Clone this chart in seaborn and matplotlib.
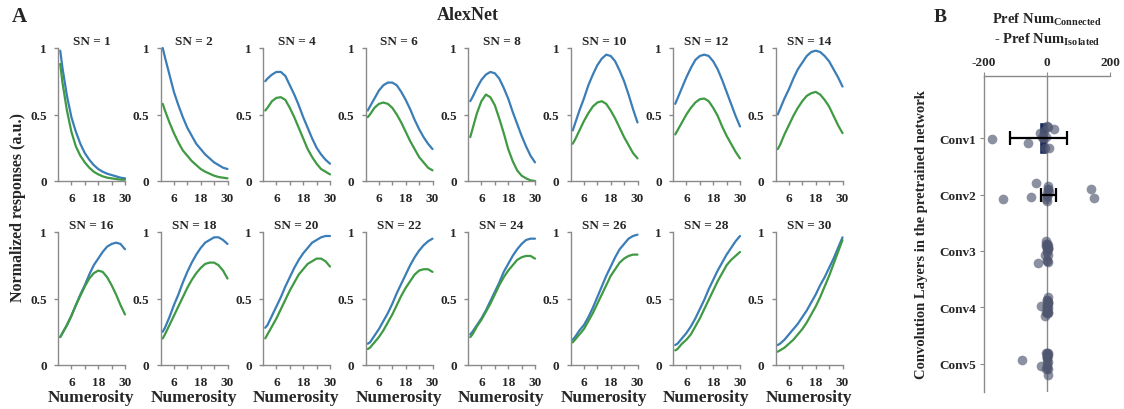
import numpy as np
import pandas as pd
import matplotlib
matplotlib.use("Agg")
import matplotlib.pyplot as plt
import seaborn as sns
from matplotlib.ticker import FixedLocator

sns.set_style("ticks")
plt.rcParams['font.family'] = ['Liberation Serif', 'DejaVu Serif']
plt.rcParams['font.weight'] = 'bold'
plt.rcParams['mathtext.default'] = 'regular'

# ---------------- data ----------------
numerosity = [1, 2, 4, 6, 8, 10, 12, 14, 16, 18, 20, 22, 24, 26, 28, 30]
sn_values = [1, 2, 4, 6, 8, 10, 12, 14, 16, 18, 20, 22, 24, 26, 28, 30]

# blue curves (one row per SN)
resp_blue = [
    [0.98, 0.85, 0.64, 0.48, 0.37, 0.28, 0.21, 0.16, 0.12, 0.09, 0.07, 0.055, 0.045, 0.035, 0.025, 0.02],
    [1.00, 0.93, 0.80, 0.67, 0.57, 0.48, 0.40, 0.34, 0.28, 0.24, 0.20, 0.17, 0.14, 0.12, 0.10, 0.09],
    [0.75, 0.77, 0.80, 0.82, 0.82, 0.79, 0.72, 0.65, 0.57, 0.48, 0.40, 0.32, 0.25, 0.20, 0.16, 0.13],
    [0.53, 0.56, 0.62, 0.68, 0.72, 0.74, 0.74, 0.72, 0.67, 0.61, 0.54, 0.46, 0.39, 0.33, 0.28, 0.24],
    [0.60, 0.63, 0.70, 0.76, 0.80, 0.82, 0.81, 0.77, 0.70, 0.62, 0.52, 0.43, 0.34, 0.26, 0.19, 0.14],
    [0.38, 0.43, 0.53, 0.62, 0.72, 0.80, 0.87, 0.92, 0.95, 0.94, 0.90, 0.83, 0.75, 0.65, 0.54, 0.44],
    [0.58, 0.62, 0.70, 0.78, 0.85, 0.91, 0.94, 0.95, 0.94, 0.90, 0.84, 0.76, 0.67, 0.58, 0.49, 0.41],
    [0.50, 0.54, 0.62, 0.69, 0.77, 0.84, 0.89, 0.94, 0.97, 0.98, 0.97, 0.94, 0.90, 0.84, 0.78, 0.71],
    [0.21, 0.24, 0.30, 0.37, 0.45, 0.53, 0.60, 0.68, 0.75, 0.80, 0.85, 0.89, 0.91, 0.92, 0.91, 0.87],
    [0.25, 0.28, 0.36, 0.45, 0.53, 0.62, 0.70, 0.77, 0.83, 0.88, 0.92, 0.94, 0.96, 0.96, 0.94, 0.91],
    [0.28, 0.30, 0.37, 0.44, 0.51, 0.59, 0.66, 0.73, 0.79, 0.84, 0.88, 0.92, 0.94, 0.96, 0.97, 0.97],
    [0.16, 0.17, 0.22, 0.27, 0.33, 0.39, 0.46, 0.54, 0.61, 0.68, 0.75, 0.81, 0.86, 0.90, 0.93, 0.95],
    [0.23, 0.25, 0.30, 0.35, 0.41, 0.48, 0.55, 0.62, 0.70, 0.76, 0.82, 0.87, 0.91, 0.94, 0.95, 0.95],
    [0.19, 0.21, 0.26, 0.30, 0.36, 0.43, 0.51, 0.59, 0.67, 0.74, 0.81, 0.87, 0.91, 0.95, 0.97, 0.98],
    [0.15, 0.16, 0.20, 0.24, 0.29, 0.35, 0.42, 0.49, 0.57, 0.64, 0.71, 0.77, 0.83, 0.88, 0.93, 0.97],
    [0.15, 0.16, 0.19, 0.23, 0.27, 0.31, 0.36, 0.41, 0.47, 0.53, 0.60, 0.66, 0.73, 0.80, 0.88, 0.96],
]
# green curves (one row per SN)
resp_green = [
    [0.88, 0.74, 0.53, 0.37, 0.26, 0.19, 0.14, 0.10, 0.07, 0.05, 0.035, 0.025, 0.02, 0.015, 0.01, 0.01],
    [0.58, 0.53, 0.44, 0.36, 0.29, 0.23, 0.19, 0.15, 0.12, 0.09, 0.07, 0.055, 0.04, 0.03, 0.025, 0.02],
    [0.53, 0.55, 0.60, 0.625, 0.63, 0.61, 0.55, 0.48, 0.40, 0.32, 0.24, 0.18, 0.13, 0.09, 0.07, 0.05],
    [0.48, 0.50, 0.55, 0.58, 0.59, 0.58, 0.55, 0.50, 0.44, 0.37, 0.30, 0.24, 0.18, 0.14, 0.10, 0.08],
    [0.33, 0.39, 0.51, 0.60, 0.65, 0.63, 0.57, 0.47, 0.36, 0.24, 0.15, 0.08, 0.04, 0.02, 0.005, 0.0],
    [0.28, 0.31, 0.38, 0.45, 0.51, 0.56, 0.59, 0.60, 0.58, 0.53, 0.47, 0.40, 0.33, 0.27, 0.21, 0.17],
    [0.35, 0.38, 0.44, 0.50, 0.55, 0.59, 0.615, 0.62, 0.60, 0.55, 0.49, 0.41, 0.34, 0.28, 0.22, 0.17],
    [0.24, 0.27, 0.35, 0.42, 0.49, 0.55, 0.60, 0.64, 0.66, 0.67, 0.65, 0.61, 0.56, 0.49, 0.42, 0.36],
    [0.21, 0.24, 0.30, 0.37, 0.45, 0.52, 0.59, 0.65, 0.69, 0.71, 0.70, 0.66, 0.60, 0.53, 0.45, 0.38],
    [0.20, 0.23, 0.30, 0.37, 0.44, 0.51, 0.58, 0.64, 0.69, 0.73, 0.76, 0.77, 0.77, 0.75, 0.71, 0.65],
    [0.20, 0.23, 0.29, 0.35, 0.42, 0.49, 0.56, 0.62, 0.68, 0.72, 0.76, 0.78, 0.80, 0.80, 0.78, 0.74],
    [0.12, 0.13, 0.17, 0.21, 0.26, 0.32, 0.38, 0.45, 0.52, 0.58, 0.63, 0.68, 0.71, 0.72, 0.72, 0.70],
    [0.21, 0.23, 0.29, 0.34, 0.40, 0.46, 0.53, 0.60, 0.66, 0.71, 0.75, 0.79, 0.81, 0.82, 0.82, 0.80],
    [0.17, 0.19, 0.23, 0.27, 0.33, 0.39, 0.46, 0.53, 0.60, 0.67, 0.72, 0.77, 0.80, 0.82, 0.83, 0.83],
    [0.11, 0.12, 0.16, 0.19, 0.23, 0.29, 0.35, 0.42, 0.49, 0.56, 0.63, 0.69, 0.75, 0.79, 0.82, 0.85],
    [0.10, 0.11, 0.13, 0.16, 0.19, 0.23, 0.27, 0.32, 0.38, 0.44, 0.51, 0.59, 0.67, 0.76, 0.85, 0.94],
]

layers = ['Conv1', 'Conv2', 'Conv3', 'Conv4', 'Conv5']
diff_conv1 = [-175, -60, -22, -12, -5, 5, 22, -8, 2, -15, 0, -3]
diff_conv2 = [150, 140, -140, -52, -35, 0, 2, 5, 3, -2, 0, 4, 1, -1]
diff_conv3 = [0, -2, 2, 3, -30, -5, 0, 1, 4, -3, 2, 0, 1, -1, 3, 0, 2, -2]
diff_conv4 = [-20, -5, 0, 2, 3, 1, -1, 0, 4, 2, 0, 3, 1, 2, -2, 0, 1, 3]
diff_conv5 = [-80, -20, 0, 2, -2, 1, 3, 0, -3, 1, 2, 0, 1, -1, 2, 0, 3, 1]
bar_means = [-26, 4, 0, 0, 0]
bar_errs = [91, 24, 0, 0, 0]

# ---------------- figure ----------------
W, H = 1124, 410
fig = plt.figure(figsize=(W / 100, H / 100), dpi=100)


def px_axes(l, t, w, h):
    return fig.add_axes([l / W, 1 - (t + h) / H, w / W, h / H])


BLUE = '#3b7db6'
GREEN = '#3f9a43'
SPINE = '#8a8a8a'
NAVY = '#17275a'

for i, sn in enumerate(sn_values):
    r, c = divmod(i, 8)
    left = 58 + c * 102.5
    top = 49 if r == 0 else 233
    ax = px_axes(left, top, 67, 133)
    df = pd.DataFrame({
        'Numerosity': numerosity * 2,
        'Response': resp_blue[i] + resp_green[i],
        'Condition': ['Isolated'] * len(numerosity) + ['Connected'] * len(numerosity),
    })
    sns.lineplot(data=df, x='Numerosity', y='Response', hue='Condition',
                 palette=[BLUE, GREEN], legend=False, ax=ax, linewidth=1.6)
    for ln in ax.lines:
        ln.set_clip_on(False)
        ln.set_solid_joinstyle('round')
    ax.set_xlim(0, 30)
    ax.set_ylim(0, 1)
    sns.despine(ax=ax)
    for s in ('left', 'bottom'):
        ax.spines[s].set_color(SPINE)
        ax.spines[s].set_linewidth(1.0)
    ax.set_xticks([6, 18, 30])
    ax.set_xticklabels(['6', '18', '30'])
    ax.xaxis.set_minor_locator(FixedLocator([12, 24]))
    ax.set_yticks([0, 0.5, 1])
    ax.set_yticklabels(['0', '0.5', '1'])
    ax.tick_params(which='both', direction='out', length=3, width=1, color=SPINE,
                   labelsize=9.5, pad=5)
    for lab in ax.get_xticklabels() + ax.get_yticklabels():
        lab.set_fontweight('bold')
    ax.set_title(f'SN = {sn}', fontsize=9.5, fontweight='bold', pad=3)
    ax.set_ylabel('')
    if r == 1:
        ax.set_xlabel('Numerosity', fontsize=12.5, fontweight='bold', labelpad=1)
    else:
        ax.set_xlabel('')

fig.text(18 / W, 1 - 207 / H, 'Normalized responses (a.u.)', rotation=90,
         ha='center', va='center', fontsize=11.5, fontweight='bold')
fig.text(12 / W, 1 - 17 / H, 'A', fontsize=15, fontweight='bold', ha='left', va='center')
fig.text(468 / W, 1 - 16 / H, 'AlexNet', fontsize=13, fontweight='bold', ha='center', va='center')

# ---------------- panel B ----------------
axb = px_axes(984, 77, 126, 316)
groups = [diff_conv1, diff_conv2, diff_conv3, diff_conv4, diff_conv5]
pts = pd.DataFrame({
    'layer': sum([[l] * len(v) for l, v in zip(layers, groups)], []),
    'diff': sum(groups, []),
})
bars = pd.DataFrame({'layer': layers, 'mean': bar_means})
sns.barplot(data=bars, x='mean', y='layer', orient='h', color=NAVY, width=0.58,
            errorbar=None, ax=axb, saturation=1)
np.random.seed(3)
sns.stripplot(data=pts, x='diff', y='layer', orient='h', color='#4f5670', alpha=0.65,
              size=7, jitter=0.22, ax=axb, zorder=3)
axb.errorbar(bar_means[:2], [0, 1], xerr=bar_errs[:2], fmt='none',
             ecolor='black', elinewidth=1.6, capsize=5, capthick=1.6, zorder=4)
axb.axvline(0, color=SPINE, lw=1, zorder=1)
axb.set_xlim(-200, 200)
axb.set_ylim(4.5, -1.1)
axb.xaxis.tick_top()
axb.xaxis.set_label_position('top')
axb.set_xticks([-200, 0, 200])
axb.set_xticklabels(['-200', '0', '200'])
for s in ('right', 'bottom'):
    axb.spines[s].set_visible(False)
for s in ('left', 'top'):
    axb.spines[s].set_color(SPINE)
    axb.spines[s].set_linewidth(1.0)
axb.tick_params(direction='out', length=3, color=SPINE, labelsize=9.5, pad=3)
for lab in axb.get_xticklabels() + axb.get_yticklabels():
    lab.set_fontweight('bold')
axb.set_xlabel('')
axb.set_ylabel('Convolution Layers in the pretrained network', fontsize=10.5,
               fontweight='bold', labelpad=8)

fig.text(1047 / W, 1 - 20 / H, r'Pref Num$_{\mathregular{Connected}}$', ha='center', va='center',
         fontsize=10.5, fontweight='bold')
fig.text(1047 / W, 1 - 40 / H, r'- Pref Num$_{\mathregular{Isolated}}$', ha='center', va='center',
         fontsize=10.5, fontweight='bold')
fig.text(940 / W, 1 - 18 / H, 'B', fontsize=14, fontweight='bold', ha='center', va='center')

fig.savefig('out.png', dpi=100)
